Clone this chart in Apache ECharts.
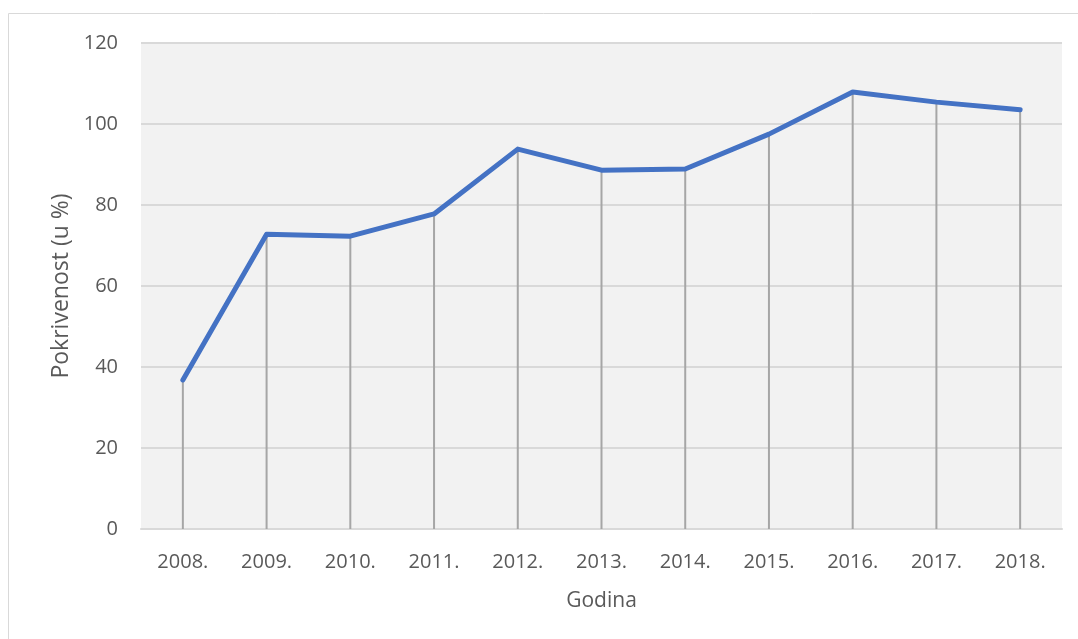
<!DOCTYPE html>
<html><head><meta charset="utf-8">
<script src="https://cdn.jsdelivr.net/npm/echarts@6/dist/echarts.min.js"></script>
<style>html,body{margin:0;padding:0;background:#fff}#c{width:1078px;height:639px}</style>
</head><body><div id="c"></div>
<script>
var categories = ['2008.','2009.','2010.','2011.','2012.','2013.','2014.','2015.','2016.','2017.','2018.'];
var values = [36.8, 72.8, 72.3, 77.8, 93.8, 88.6, 88.9, 97.5, 107.9, 105.4, 103.5];
var yTicks = [0, 20, 40, 60, 80, 100, 120];
var chart = echarts.init(document.getElementById('c'));
var font = '"Open Sans", "Noto Sans", sans-serif';
chart.setOption({
  animation: false,
  graphic: [{type:'rect', shape:{x:8.5,y:13.5,width:1080,height:640}, style:{fill:'none',stroke:'#d9d9d9',lineWidth:1}, z:-1}],
  grid: {left:141, right:16, top:43, bottom:110, backgroundColor:'#f2f2f2', show:true, borderWidth:0},
  xAxis: {type:'category', data:categories, boundaryGap:true,
    axisLine:{lineStyle:{color:'#d9d9d9', width:2}}, axisTick:{show:false},
    axisLabel:{color:'#595959', fontSize:20, fontFamily:font, margin:23},
    name:'Godina', nameLocation:'middle', nameGap:62, nameTextStyle:{color:'#595959', fontSize:21, fontFamily:font}},
  yAxis: {type:'value', min:yTicks[0], max:yTicks[yTicks.length-1], interval:20,
    axisLine:{show:false}, axisTick:{show:false},
    splitLine:{lineStyle:{color:'#d9d9d9', width:2}},
    axisLabel:{color:'#595959', fontSize:20, fontFamily:font, margin:23},
    name:'Pokrivenost (u %)', nameLocation:'middle', nameGap:63, nameRotate:90,
    nameTextStyle:{color:'#595959', fontSize:23, fontFamily:font}},
  series: [
    {type:'bar', data:values, barWidth:2, itemStyle:{color:'#a6a6a6'}, z:1, silent:true},
    {type:'line', data:values, showSymbol:false, symbol:'none', z:3,
     lineStyle:{color:'#4472c4', width:5, cap:'round', join:'round'}}
  ]
});
</script></body></html>
